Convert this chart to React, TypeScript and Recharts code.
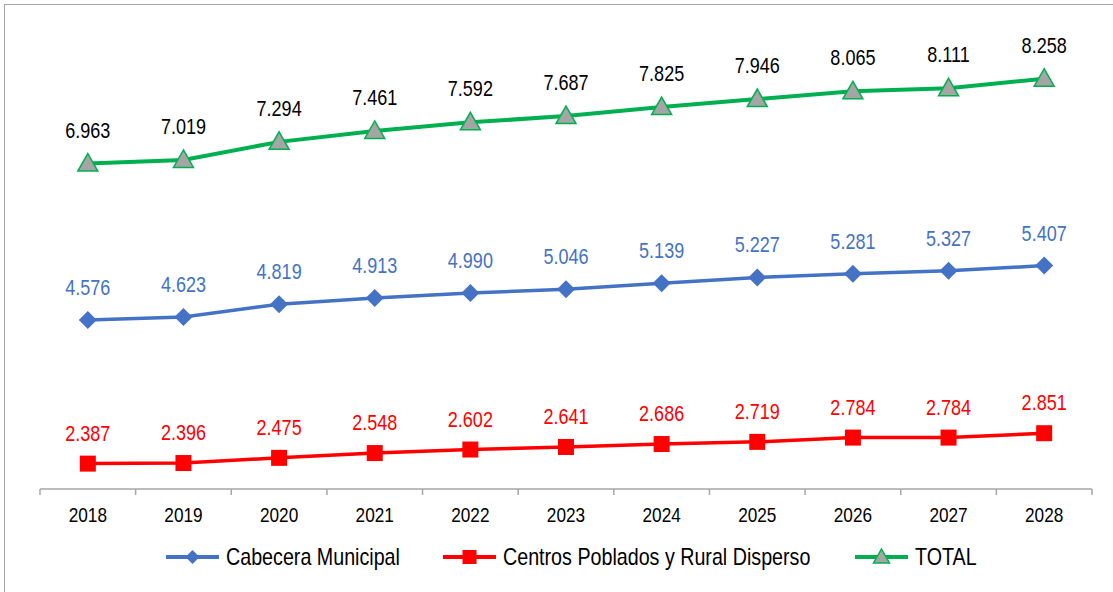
import { LabelList, Legend, Line, LineChart, XAxis, YAxis } from "recharts";

const YEARS = ["2018", "2019", "2020", "2021", "2022", "2023", "2024", "2025", "2026", "2027", "2028"];
const CABECERA = [4576, 4623, 4819, 4913, 4990, 5046, 5139, 5227, 5281, 5327, 5407];
const RURAL = [2387, 2396, 2475, 2548, 2602, 2641, 2686, 2719, 2784, 2784, 2851];
const TOTAL = [6963, 7019, 7294, 7461, 7592, 7687, 7825, 7946, 8065, 8111, 8258];

const BLUE = "#4472c4";
const RED = "#ff0000";
const GREEN = "#00b050";
const AXIS = "#a6a6a6";
const FONT = "'Liberation Sans', Arial, sans-serif";
// the original uses a narrow face; squeeze the regular one instead
const SQUEEZE = 0.82;

const W = 1108;
const H = 587;
const MARGIN = { top: 25, right: 21, left: 35, bottom: 43 };
const BAND = (W - MARGIN.left - MARGIN.right) / YEARS.length;

// each year sits in the middle of its slot, ticks go on slot edges
const rows = YEARS.map((year, i) => ({
  pos: i + 0.5,
  year,
  cab: CABECERA[i],
  rural: RURAL[i],
  total: TOTAL[i],
}));
const EDGES = YEARS.map((_, i) => i).concat(YEARS.length);

const fmt = (v: unknown) => {
  const n = Number(v);
  return `${Math.floor(n / 1000)}.${String(n % 1000).padStart(3, "0")}`;
};

const textWidth = (s: string, size: number) => {
  const ctx = document.createElement("canvas").getContext("2d");
  if (!ctx) return s.length * size * 0.5;
  ctx.font = `${size}px 'Liberation Sans', Arial, sans-serif`;
  return ctx.measureText(s).width;
};

const Diamond = ({ cx, cy, size = 9 }: any) =>
  cx == null ? null : (
    <polygon
      points={`${cx},${cy - size} ${cx + size},${cy} ${cx},${cy + size} ${cx - size},${cy}`}
      fill={BLUE}
    />
  );

const Square = ({ cx, cy, size = 8 }: any) =>
  cx == null ? null : (
    <rect x={cx - size} y={cy - size} width={size * 2} height={size * 2} fill={RED} />
  );

const Triangle = ({ cx, cy, size = 10 }: any) =>
  cx == null ? null : (
    <polygon
      points={`${cx},${cy - size} ${cx + size},${cy + size * 0.75} ${cx - size},${cy + size * 0.75}`}
      fill="#a5a5a5"
      stroke={GREEN}
      strokeWidth={1.5}
    />
  );

const narrowLabel = (color: string, offset: number) => (p: any) => (
  <text
    transform={`translate(${p.x},${p.y - offset}) scale(${SQUEEZE},1)`}
    textAnchor="middle"
    fontSize={22}
    fontFamily={FONT}
    fill={color}
  >
    {fmt(p.value)}
  </text>
);

const YearTick = ({ x, y, payload }: any) => {
  const i = payload.value;
  if (i >= YEARS.length) return <g />;
  return (
    <text
      transform={`translate(${x + BAND / 2},${y}) scale(${SQUEEZE},1)`}
      dy="0.71em"
      textAnchor="middle"
      fontSize={21}
      fontFamily={FONT}
      fill="#000"
    >
      {YEARS[i]}
    </text>
  );
};

const LEGEND = [
  { label: "Cabecera Municipal", color: BLUE, Marker: Diamond, size: 7 },
  { label: "Centros Poblados y Rural Disperso", color: RED, Marker: Square, size: 7 },
  { label: "TOTAL", color: GREEN, Marker: Triangle, size: 8 },
];

const LegendContent = () => (
  <div
    style={{
      display: "flex",
      justifyContent: "center",
      alignItems: "center",
      gap: 44,
      height: 30,
      paddingLeft: 24,
      fontFamily: FONT,
      fontSize: 24,
      color: "#000",
    }}
  >
    {LEGEND.map(({ label, color, Marker, size }) => (
      <div key={label} style={{ display: "flex", alignItems: "center", gap: 7 }}>
        <svg width={53} height={22}>
          <line x1={0} y1={11} x2={53} y2={11} stroke={color} strokeWidth={4} />
          <Marker cx={26.5} cy={11} size={size} />
        </svg>
        <span style={{ display: "inline-block", width: textWidth(label, 24) * SQUEEZE }}>
          <span
            style={{
              display: "inline-block",
              whiteSpace: "nowrap",
              transform: `scaleX(${SQUEEZE})`,
              transformOrigin: "left center",
            }}
          >
            {label}
          </span>
        </span>
      </div>
    ))}
  </div>
);

export default function App() {
  return (
    <div
      style={{
        position: "absolute",
        left: 4,
        top: 4,
        width: W,
        height: H,
        borderTop: `1px solid ${AXIS}`,
        borderLeft: `1px solid ${AXIS}`,
        background: "#fff",
      }}
    >
      <LineChart width={W} height={H} data={rows} margin={MARGIN}>
        <XAxis
          dataKey="pos"
          type="number"
          domain={[0, YEARS.length]}
          ticks={EDGES}
          interval={0}
          tick={<YearTick />}
          tickSize={6}
          tickMargin={12}
          height={30}
          stroke={AXIS}
          strokeWidth={1.5}
        />
        <YAxis hide domain={[2000, 9000]} />
        <Legend
          verticalAlign="bottom"
          content={<LegendContent />}
          wrapperStyle={{ top: 537, bottom: "auto", left: 0, width: W, height: 30 }}
        />
        <Line
          dataKey="total"
          stroke={GREEN}
          strokeWidth={4}
          dot={<Triangle />}
          activeDot={false}
          isAnimationActive={false}
        >
          <LabelList dataKey="total" content={narrowLabel("#000", 26)} />
        </Line>
        <Line
          dataKey="cab"
          stroke={BLUE}
          strokeWidth={3.5}
          dot={<Diamond />}
          activeDot={false}
          isAnimationActive={false}
        >
          <LabelList dataKey="cab" content={narrowLabel(BLUE, 25)} />
        </Line>
        <Line
          dataKey="rural"
          stroke={RED}
          strokeWidth={3.5}
          dot={<Square />}
          activeDot={false}
          isAnimationActive={false}
        >
          <LabelList dataKey="rural" content={narrowLabel(RED, 23)} />
        </Line>
      </LineChart>
    </div>
  );
}
